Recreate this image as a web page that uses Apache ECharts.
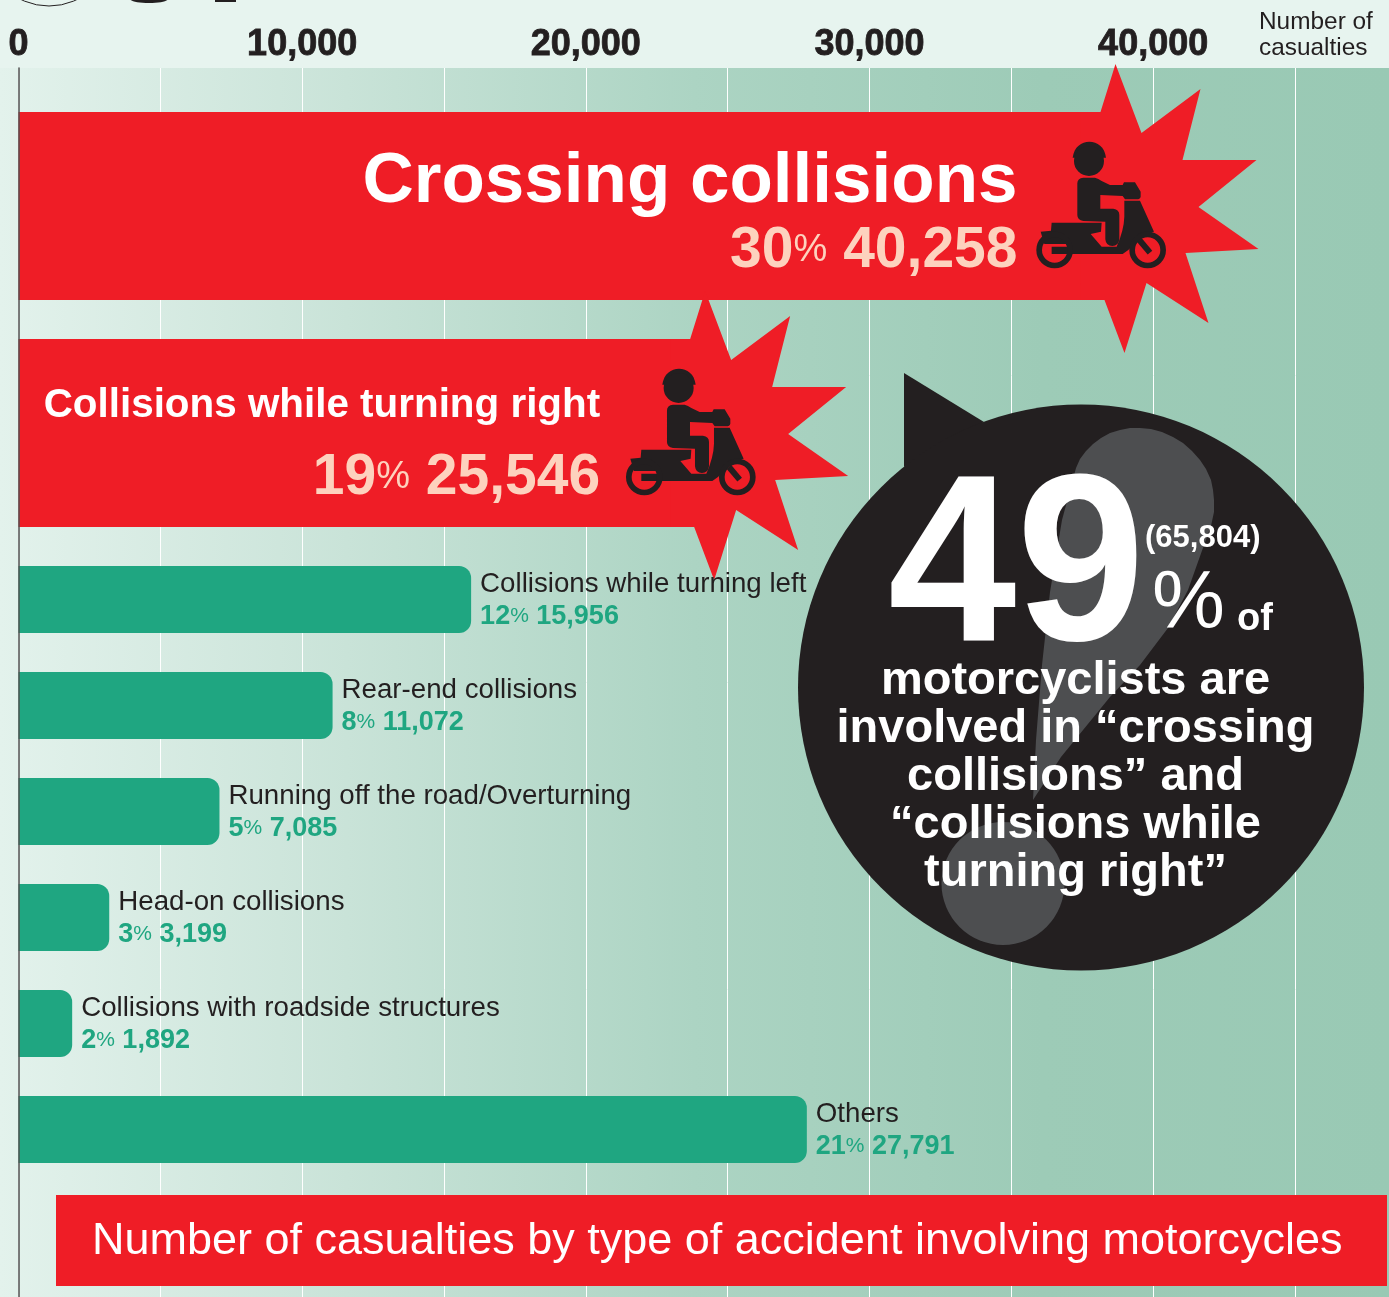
<!DOCTYPE html>
<html>
<head>
<meta charset="utf-8">
<style>
  html, body { margin: 0; padding: 0; background: #e7f4ef; }
  #chart { width: 1389px; height: 1297px; }
</style>
<script src="https://cdn.jsdelivr.net/npm/echarts@6/dist/echarts.min.js"></script>
</head>
<body>
<div id="chart"></div>
<script>
// Casualties by accident type
const topCategories = ['Crossing collisions', 'Collisions while turning right'];
const topValues = [40258, 25546];
const topShares = [30, 19];

const otherCategories = [
  'Collisions while turning left',
  'Rear-end collisions',
  'Running off the road/Overturning',
  'Head-on collisions',
  'Collisions with roadside structures',
  'Others'
];
const otherValues = [15956, 11072, 7085, 3199, 1892, 27791];
const otherShares = [12, 8, 5, 3, 2, 21];

const axisTicks = [0, 10000, 20000, 30000, 40000];
const axisTitle = 'Number of\ncasualties';
const chartTitle = 'Number of casualties by type of accident involving motorcycles';

const calloutShare = '49';
const calloutCount = '(65,804)';
const calloutLines = [
  'motorcyclists are',
  'involved in “crossing',
  'collisions” and',
  '“collisions while',
  'turning right”'
];

const FONT = '"Liberation Sans", Arial, sans-serif';
const RED = '#ef1d26';
const GREEN = '#1fa681';
const INK = '#231f20';
const PEACH = '#fdd2be';
const fmt = n => n.toLocaleString('en-US');

// Outline of the starburst around the end of a red bar, relative to that end
const burstOutline = [
  [-80, -94], [-60, -94], [-45, -142], [-19, -73], [40, -117], [22, -46], [96, -46], [38, 1],
  [98, 43], [25, 47], [48, 117], [-14, 77], [-36, 147], [-56, 94], [-80, 94]
];
const burstNudge = [0, 7];

const riderPath = 'M250 383L285 383Q295 385 305 393L330 405L368 405L372 397L405 397L422 425L422 440Q420 448 410 448L375 448L368 438L301 435L301 476L340 476Q358 478 358 495L358 568Q356 588 337 588Q318 588 316 568L316 515L250 513Q232 510 232 495L232 400Q232 385 250 383Z';
const helmetPath = 'M218 323C222 290 245 275 268 275C292 275 314 290 318 323Z';
const scooterPath = 'M373 452L420 452L462 545Q425 550 405 580L385 600L368 612L155 612L155 590L205 590L200 582L133 582L122 545L153 542L155 518L305 518L303 545L272 552L305 590L350 590Q372 540 373 500Z';

function renderBurst(params, api) {
  const end = api.coord([api.value(0), api.value(1)]);
  const ox = end[0] + burstNudge[params.dataIndex];
  const oy = end[1];
  const ink = { fill: INK };
  const ring = { fill: 'none', stroke: INK, lineWidth: 17 };
  return {
    type: 'group',
    children: [
      {
        type: 'polygon',
        shape: { points: burstOutline.map(p => [ox + p[0], oy + p[1]]) },
        style: { fill: RED }
      },
      {
        type: 'group',
        x: ox - 160.5,
        y: oy - 156,
        scaleX: 1 / 3,
        scaleY: 1 / 3,
        children: [
          { type: 'path', shape: { pathData: helmetPath }, style: ink },
          { type: 'circle', shape: { cx: 267, cy: 333, r: 45 }, style: ink },
          { type: 'path', shape: { pathData: riderPath }, style: ink },
          { type: 'path', shape: { pathData: scooterPath }, style: ink },
          { type: 'circle', shape: { cx: 164, cy: 600, r: 46.5 }, style: ring },
          { type: 'circle', shape: { cx: 443, cy: 600, r: 46.5 }, style: ring },
          { type: 'line', shape: { x1: 418, y1: 570, x2: 450, y2: 608 }, style: { stroke: INK, lineWidth: 18 } }
        ]
      }
    ]
  };
}

const hiddenX = gridIndex => ({
  type: 'value', gridIndex, min: 0, max: 45000, interval: 5000, show: false
});
const PLOT = { left: 18.5, width: 1276.5 };

const option = {
  animation: false,
  title: {
    text: chartTitle,
    left: 92,
    top: 1219,
    padding: 0,
    textStyle: { fontFamily: FONT, fontSize: 45, fontWeight: 'normal', color: '#ffffff' }
  },
  grid: [
    { ...PLOT, top: 68, height: 1229 },
    { ...PLOT, top: 92.5, height: 454 },
    { ...PLOT, top: 546.5, height: 636 }
  ],
  xAxis: [
    {
      type: 'value',
      gridIndex: 0,
      position: 'top',
      min: 0,
      max: 45000,
      interval: 5000,
      axisLine: { show: false },
      axisTick: { show: false },
      splitLine: { show: true, lineStyle: { color: '#ffffff', width: 1 } },
      axisLabel: {
        margin: 5,
        color: INK,
        fontFamily: FONT,
        fontWeight: 'bold',
        fontSize: 36,
        textBorderColor: INK,
        textBorderWidth: 0.8,
        hideOverlap: false,
        formatter: v => (axisTicks.includes(v) ? fmt(v) : '')
      }
    },
    hiddenX(1),
    hiddenX(2)
  ],
  yAxis: [
    {
      type: 'value',
      gridIndex: 0,
      min: 0,
      max: 1,
      z: 10,
      axisLine: { show: true, lineStyle: { color: '#4f4f4f', width: 1.5 } },
      axisTick: { show: false },
      axisLabel: { show: false },
      splitLine: { show: false }
    },
    { type: 'category', gridIndex: 1, inverse: true, data: topCategories, show: false },
    { type: 'category', gridIndex: 2, inverse: true, data: otherCategories, show: false }
  ],
  series: [
    {
      type: 'bar',
      name: 'Leading accident types',
      xAxisIndex: 1,
      yAxisIndex: 1,
      z: 2,
      barWidth: 188,
      // The rounded end stays hidden under the burst drawn on top
      itemStyle: { color: RED, borderRadius: [0, 70, 70, 0] },
      data: topValues.map((v, i) => ({
        value: v,
        label: {
          show: true,
          position: 'insideRight',
          align: 'right',
          offset: [-138, i === 0 ? 12 : 9],
          formatter: () =>
            `{${i === 0 ? 'big' : 'mid'}|${topCategories[i]}}\n` +
            `{pct|${topShares[i]}}{sym|%}{val| ${fmt(v)}}`,
          rich: {
            big: { fontFamily: FONT, fontSize: 71, fontWeight: 'bold', color: '#fff', lineHeight: 66, align: 'right' },
            mid: { fontFamily: FONT, fontSize: 40.4, fontWeight: 'bold', color: '#fff', lineHeight: 72, align: 'right' },
            pct: { fontFamily: FONT, fontSize: 57, fontWeight: 'bold', color: PEACH, lineHeight: 72 },
            sym: { fontFamily: FONT, fontSize: 38, color: PEACH, lineHeight: 72 },
            val: { fontFamily: FONT, fontSize: 57, fontWeight: 'bold', color: PEACH, lineHeight: 72 }
          }
        }
      }))
    },
    {
      type: 'custom',
      name: 'Burst',
      xAxisIndex: 1,
      yAxisIndex: 1,
      z: 3,
      silent: true,
      renderItem: renderBurst,
      encode: { x: 0, y: 1 },
      data: topValues.map((v, i) => [v, i])
    },
    {
      type: 'bar',
      name: 'Other accident types',
      xAxisIndex: 2,
      yAxisIndex: 2,
      z: 4,
      barWidth: 67,
      itemStyle: { color: GREEN, borderRadius: [0, 12, 12, 0] },
      label: {
        show: true,
        position: 'right',
        distance: 9,
        align: 'left',
        offset: [0, 1],
        formatter: p =>
          `{name|${otherCategories[p.dataIndex]}}\n` +
          `{pct|${otherShares[p.dataIndex]}}{sym|%}{val| ${fmt(p.value)}}`,
        rich: {
          name: { fontFamily: FONT, fontSize: 27.7, color: INK, lineHeight: 32, align: 'left' },
          pct: { fontFamily: FONT, fontSize: 27, fontWeight: 'bold', color: GREEN, lineHeight: 32 },
          sym: { fontFamily: FONT, fontSize: 21, color: GREEN, lineHeight: 32 },
          val: { fontFamily: FONT, fontSize: 27, fontWeight: 'bold', color: GREEN, lineHeight: 32 }
        }
      },
      data: otherValues
    }
  ],
  graphic: [
    // Backdrop: green wash below a pale header strip
    {
      type: 'rect', z: -2, silent: true,
      shape: { x: 0, y: 68, width: 1389, height: 1229 },
      style: {
        fill: new echarts.graphic.LinearGradient(0, 0, 1, 0, [
          { offset: 0, color: '#e3f2ec' },
          { offset: 0.25, color: '#c9e3d8' },
          { offset: 0.5, color: '#acd4c3' },
          { offset: 0.75, color: '#9dcbb7' },
          { offset: 1, color: '#99c9b4' }
        ])
      }
    },
    {
      type: 'rect', z: -2, silent: true,
      shape: { x: 0, y: 0, width: 1389, height: 68 },
      style: { fill: '#e7f4ef' }
    },
    // Axis unit, set beside the tick labels
    {
      type: 'text', z: 1, x: 1259, y: 35, silent: true,
      style: {
        text: axisTitle, fill: INK, font: `24.4px ${FONT}`, lineHeight: 26,
        textAlign: 'left', textVerticalAlign: 'middle'
      }
    },
    // Remains of the artwork above the header strip
    { type: 'circle', z: 1, silent: true, shape: { cx: 49, cy: -58, r: 64 }, style: { fill: 'none', stroke: INK, lineWidth: 1 } },
    { type: 'ellipse', z: 1, silent: true, shape: { cx: 149, cy: -1, rx: 19, ry: 4 }, style: { fill: INK } },
    { type: 'rect', z: 1, silent: true, shape: { x: 215, y: 0, width: 21, height: 2 }, style: { fill: INK } },
    // Title banner
    {
      type: 'rect', z: 5, silent: true,
      shape: { x: 56, y: 1195, width: 1331, height: 91 },
      style: { fill: RED }
    },
    // Speech-bubble callout
    {
      type: 'group', z: 20, silent: true,
      children: [
        { type: 'polygon', z: 20, shape: { points: [[904, 373], [984, 422], [904, 467]] }, style: { fill: INK } },
        { type: 'circle', z: 20, shape: { cx: 1081, cy: 687.5, r: 283 }, style: { fill: INK } },
        {
          type: 'polygon', z: 21,
          shape: {
            points: [
              [1076, 468], [1080, 459], [1086, 451], [1093, 444], [1101, 438], [1110, 433],
              [1120, 430], [1130, 428], [1140, 428], [1151, 429], [1162, 432], [1173, 437],
              [1183, 443], [1192, 451], [1200, 460], [1206, 469], [1211, 480], [1213, 490],
              [1214, 500], [1214, 512], [1211, 526], [1204, 545], [1188, 590], [1168, 628],
              [1140, 665], [1110, 697], [1061, 757], [1033, 800], [1036, 740], [1042, 665],
              [1050, 592], [1062, 520]
            ]
          },
          style: { fill: '#4d4e50' }
        },
        { type: 'circle', z: 21, shape: { cx: 1003, cy: 883.5, r: 61.5 }, style: { fill: '#4d4e50' } },
        {
          type: 'text', z: 22, x: 888, y: 574, scaleX: 0.97,
          style: { text: calloutShare, fill: '#fff', font: `bold 238px ${FONT}`, textAlign: 'left', textVerticalAlign: 'middle' }
        },
        {
          type: 'text', z: 22, x: 1145, y: 538,
          style: { text: calloutCount, fill: '#fff', font: `bold 31px ${FONT}`, textAlign: 'left', textVerticalAlign: 'middle' }
        },
        {
          type: 'text', z: 22, x: 1152, y: 605,
          style: { text: '%', fill: '#fff', font: `82px ${FONT}`, textAlign: 'left', textVerticalAlign: 'middle' }
        },
        {
          type: 'text', z: 22, x: 1237, y: 620,
          style: { text: 'of', fill: '#fff', font: `bold 38px ${FONT}`, textAlign: 'left', textVerticalAlign: 'middle' }
        },
        ...calloutLines.map((line, i) => ({
          type: 'text', z: 22, x: 1075.5, y: 681 + i * 48,
          style: { text: line, fill: '#fff', font: `bold 47px ${FONT}`, textAlign: 'center', textVerticalAlign: 'middle' }
        }))
      ]
    }
  ]
};

const chart = echarts.init(document.getElementById('chart'), null, { renderer: 'canvas' });
chart.setOption(option);
</script>
</body>
</html>
